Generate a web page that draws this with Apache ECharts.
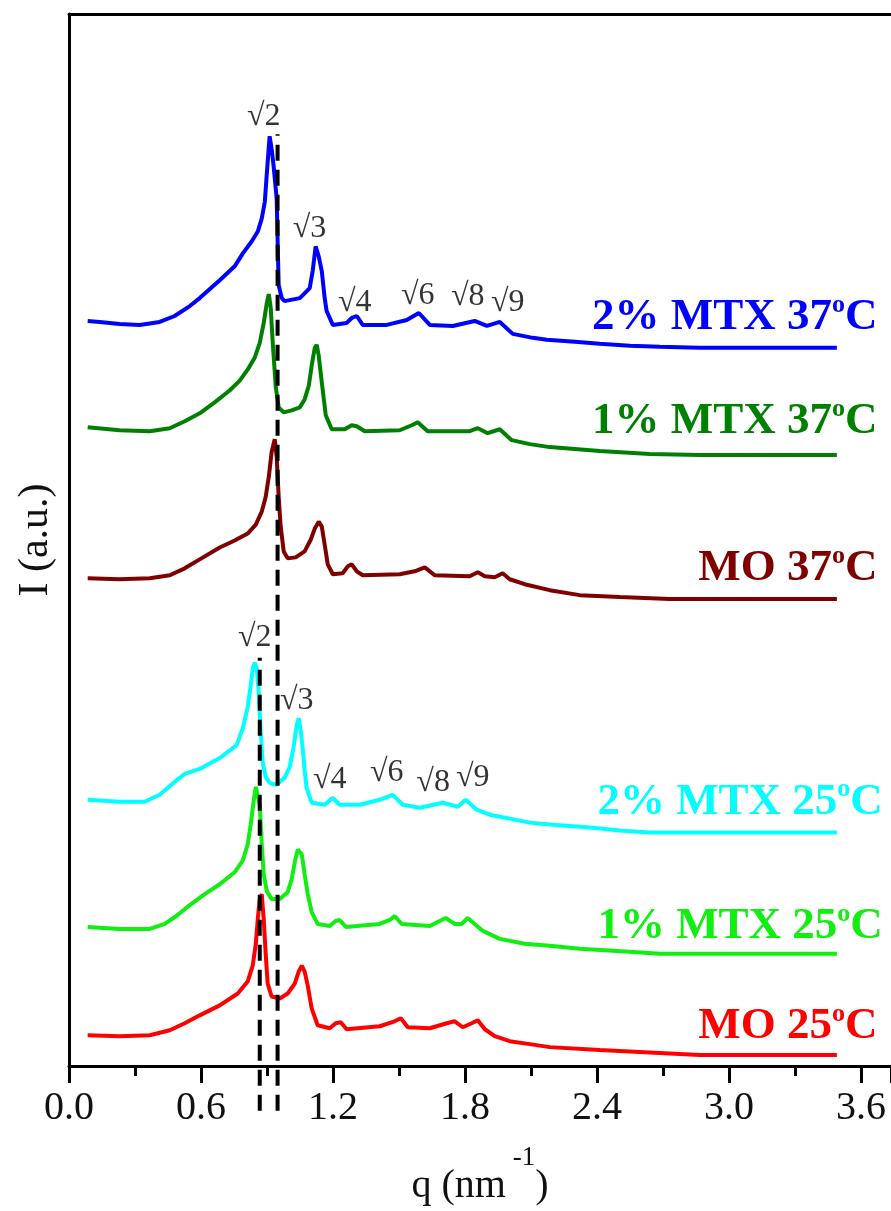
<!DOCTYPE html>
<html>
<head>
<meta charset="utf-8">
<script src="https://cdn.jsdelivr.net/npm/echarts@6.0.0/dist/echarts.min.js"></script>
<style>
  html, body { margin: 0; padding: 0; background: #fff; }
  #chart { width: 891px; height: 1211px; }
</style>
</head>
<body>
<div id="chart"></div>
<script>
// q in nm^-1, intensity in arbitrary units (curves already stacked with offsets)
var mtx2_37_q = [0.085,0.140,0.230,0.321,0.412,0.480,0.549,0.594,0.685,0.753,0.790,0.830,0.858,0.876,0.890,0.899,0.908,0.912,0.921,0.930,0.944,0.949,0.953,0.967,0.980,1.049,1.094,1.108,1.121,1.135,1.149,1.162,1.171,1.199,1.262,1.285,1.308,1.335,1.444,1.535,1.590,1.640,1.744,1.844,1.899,1.958,2.017,2.108,2.171,2.299,2.412,2.549,2.685,2.867,3.140,3.490];
var mtx2_37_i = [750,749,747,746,749,755,765,773,791,805,818,830,840,853,870,898,925,936,923,906,873,823,786,773,770,773,783,801,825,815,800,773,760,746,748,753,755,746,746,751,758,746,745,750,745,749,737,733,731,729,727,725,724,723,723,723];

var mtx1_37_q = [0.085,0.230,0.367,0.458,0.526,0.594,0.662,0.730,0.776,0.812,0.844,0.867,0.885,0.899,0.908,0.917,0.926,0.940,0.953,0.976,1.012,1.049,1.071,1.090,1.103,1.117,1.126,1.135,1.149,1.167,1.194,1.253,1.285,1.308,1.344,1.503,1.558,1.585,1.630,1.821,1.858,1.903,1.958,2.012,2.094,2.185,2.412,2.640,2.867,3.490];
var mtx1_37_i = [643,640,639,642,649,657,668,680,690,701,713,728,748,768,777,763,728,683,663,658,660,663,671,685,705,723,726,715,688,655,641,641,645,644,639,640,645,648,639,639,642,637,641,630,626,623,619,616,615,615];

var mo_37_q = [0.085,0.230,0.367,0.458,0.526,0.594,0.685,0.753,0.812,0.849,0.876,0.894,0.908,0.921,0.935,0.944,0.953,0.962,0.976,0.994,1.030,1.071,1.099,1.117,1.135,1.149,1.162,1.176,1.199,1.244,1.267,1.285,1.308,1.335,1.503,1.571,1.617,1.662,1.821,1.858,1.890,1.935,1.971,2.003,2.071,2.185,2.321,2.503,2.730,3.490];
var mo_37_i = [491,490,491,494,501,510,522,529,536,545,558,573,593,618,631,613,573,543,518,511,512,518,530,541,548,543,525,505,495,496,503,505,498,494,495,498,502,494,493,497,493,492,496,490,485,479,474,472,470,470];

var mtx2_25_q = [0.085,0.230,0.344,0.412,0.480,0.526,0.594,0.685,0.762,0.790,0.812,0.826,0.835,0.844,0.853,0.862,0.871,0.880,0.894,0.912,0.940,0.980,1.003,1.021,1.035,1.044,1.053,1.062,1.071,1.080,1.103,1.162,1.199,1.230,1.321,1.412,1.471,1.517,1.594,1.699,1.767,1.803,1.853,1.912,2.003,2.094,2.185,2.367,2.503,2.640,3.490];
var mtx2_25_i = [268,266,266,273,286,294,299,310,323,340,361,383,400,406,401,378,338,306,291,285,283,290,301,321,343,350,338,320,298,280,265,263,270,263,263,268,273,263,260,265,261,268,258,253,249,245,243,240,237,235,235];

var mtx1_25_q = [0.085,0.230,0.367,0.435,0.494,0.549,0.617,0.685,0.753,0.790,0.812,0.826,0.840,0.849,0.858,0.867,0.876,0.885,0.899,0.921,0.958,0.994,1.012,1.026,1.040,1.049,1.058,1.071,1.085,1.103,1.130,1.185,1.212,1.230,1.258,1.412,1.458,1.480,1.512,1.640,1.685,1.712,1.753,1.785,1.812,1.844,1.881,1.958,2.071,2.185,2.321,2.549,2.685,3.490];
var mtx1_25_i = [140,138,138,143,152,162,173,183,195,207,223,243,268,281,283,263,223,193,176,168,168,175,188,205,218,220,213,193,173,155,143,141,146,147,140,143,147,151,143,141,146,149,143,143,149,143,136,128,123,121,118,115,113,113];

var mo_25_q = [0.085,0.230,0.367,0.458,0.526,0.594,0.685,0.767,0.812,0.835,0.849,0.858,0.867,0.876,0.885,0.894,0.903,0.921,0.958,0.994,1.026,1.044,1.058,1.071,1.085,1.103,1.130,1.185,1.212,1.235,1.262,1.412,1.480,1.508,1.540,1.640,1.717,1.753,1.790,1.830,1.858,1.890,1.935,2.003,2.094,2.185,2.412,2.685,2.867,3.490];
var mo_25_i = [31,30,31,36,43,51,61,73,85,101,123,148,168,173,148,113,83,70,68,73,83,95,101,95,81,58,41,38,43,44,37,40,45,48,39,38,43,45,39,43,46,37,30,25,22,19,16,13,11,11];

// sample names, colours and where their labels sit (right end, centre)
var sampleNames = ['2% MTX 37', '1% MTX 37', 'MO 37', '2% MTX 25', '1% MTX 25', 'MO 25'];
var sampleColors = ['#0000ff', '#008000', '#800000', '#00ffff', '#11ee11', '#ff0000'];
var labelQ = [3.675, 3.675, 3.675, 3.699, 3.699, 3.675];
var labelI = [755, 650, 502, 267, 142, 41];

// peak index labels
var peakText = ['√2', '√3', '√4', '√6', '√8', '√9'];
var peak37_q = [0.885, 1.093, 1.299, 1.585, 1.812, 1.994];
var peak37_i = [956, 843, 768, 776, 775, 768];
var peak25_q = [0.844, 1.035, 1.185, 1.444, 1.655, 1.835];
var peak25_i = [431, 368, 288, 295, 285, 290];

// dashed guide lines at the √2 positions
var guideQ = [0.867, 0.948];
var guideTop = [411, 938];
var guideBottom = -45;

var serifFont = '"Liberation Serif", "Times New Roman", serif';
var curves = [
  [mtx2_37_q, mtx2_37_i], [mtx1_37_q, mtx1_37_i], [mo_37_q, mo_37_i],
  [mtx2_25_q, mtx2_25_i], [mtx1_25_q, mtx1_25_i], [mo_25_q, mo_25_i]
];

function zip(a, b) {
  var out = [];
  for (var k = 0; k < a.length; k++) out.push([a[k], b[k]]);
  return out;
}

var series = [];
for (let idx = 0; idx < curves.length; idx++) {
  const color = sampleColors[idx];
  series.push({
    type: 'line',
    name: sampleNames[idx],
    data: zip(curves[idx][0], curves[idx][1]),
    showSymbol: false,
    lineStyle: { color: color, width: 4 },
    z: 3,
    markPoint: {
      symbol: 'circle',
      symbolSize: 0,
      silent: true,
      data: [{
        coord: [labelQ[idx], labelI[idx]],
        label: {
          show: true,
          position: 'left',
          distance: 0,
          formatter: '{a|' + sampleNames[idx] + '}{s|o}{a|C}',
          rich: {
            a: { fontFamily: serifFont, fontSize: 45, fontWeight: 'bold', color: color, lineHeight: 48, verticalAlign: 'bottom' },
            s: { fontFamily: serifFont, fontSize: 26, fontWeight: 'bold', color: color, lineHeight: 26, verticalAlign: 'top' }
          }
        }
      }]
    }
  });
}

// √n labels as invisible points
function peakData(qs, is) {
  var out = [];
  for (var k = 0; k < qs.length; k++) out.push([qs[k], is[k], peakText[k]]);
  return out;
}
series.push({
  type: 'scatter',
  data: peakData(peak37_q, peak37_i).concat(peakData(peak25_q, peak25_i)),
  symbolSize: 0,
  silent: true,
  label: {
    show: true,
    position: 'inside',
    formatter: function (p) { return p.value[2]; },
    fontFamily: serifFont,
    fontSize: 32,
    color: '#000',
    textBorderWidth: 0
  },
  z: 5
});

// dashed lines, not clipped so they run past the axis
for (let g = 0; g < guideQ.length; g++) {
  series.push({
    type: 'line',
    data: [[guideQ[g], guideBottom], [guideQ[g], guideTop[g]]],
    showSymbol: false,
    clip: false,
    silent: true,
    lineStyle: { color: '#000', width: 4, type: [16, 9] },
    z: 4
  });
}

var chart = echarts.init(document.getElementById('chart'));
chart.setOption({
  animation: false,
  backgroundColor: '#fff',
  grid: { left: 69, right: 0, top: 14, bottom: 138 },
  xAxis: [{
    type: 'value',
    min: 0,
    max: 3.736,
    interval: 0.6,
    name: '{n|q (nm}{s| -1}{n|)}',
    nameLocation: 'middle',
    nameGap: 78,
    nameTextStyle: {
      rich: {
        n: { fontFamily: serifFont, fontSize: 40, color: '#111', lineHeight: 62, verticalAlign: 'bottom' },
        s: { fontFamily: serifFont, fontSize: 27, color: '#111', lineHeight: 27, verticalAlign: 'top' }
      }
    },
    axisLine: { show: true, onZero: false, lineStyle: { color: '#000', width: 3 } },
    axisTick: { show: true, length: 17, lineStyle: { color: '#000', width: 3 } },
    minorTick: { show: true, splitNumber: 2, length: 10, lineStyle: { color: '#000', width: 3 } },
    axisLabel: {
      margin: 22,
      fontFamily: serifFont,
      fontSize: 40,
      color: '#111',
      showMaxLabel: false,
      formatter: function (v) { return v.toFixed(1); }
    },
    splitLine: { show: false }
  }, {
    type: 'value',
    position: 'top',
    min: 0,
    max: 3.736,
    axisLine: { show: true, onZero: false, lineStyle: { color: '#000', width: 3 } },
    axisTick: { show: false },
    axisLabel: { show: false },
    splitLine: { show: false }
  }],
  yAxis: {
    type: 'value',
    min: 0,
    max: 1059,
    name: 'I (a.u.)',
    nameLocation: 'middle',
    nameRotate: 90,
    nameGap: 12,
    nameTextStyle: { fontFamily: serifFont, fontSize: 42, color: '#111' },
    axisLine: { show: true, onZero: false, lineStyle: { color: '#000', width: 3 } },
    axisTick: { show: false },
    axisLabel: { show: false },
    splitLine: { show: false }
  },
  series: series
});
</script>
</body>
</html>
